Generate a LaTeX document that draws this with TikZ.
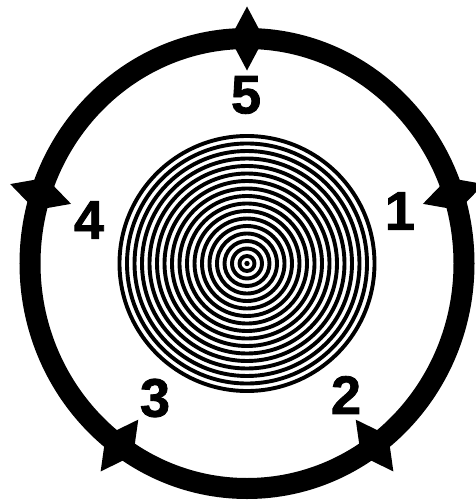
\documentclass[tikz,border=0pt]{standalone}
\usepackage{fontspec}
\setmainfont{Liberation Sans}
\newfontfamily\heavydigits[FakeBold=1.6]{Liberation Sans Bold}
\begin{document}
\begin{tikzpicture}[x=1pt,y=-1pt,
  num/.style={font=\heavydigits\fontsize{54}{54}\selectfont, inner sep=0pt, text=black},
  ringline/.style={line width=3.9pt, draw=black},
  band/.style={line width=21pt, draw=black}]
\useasboundingbox (0,0) rectangle (476,503);
\clip (0,0) rectangle (476,503);
\fill[white] (0,0) rectangle (476,503);
% concentric target
\fill[black] (247,263.5) circle [radius=2.7pt];
\foreach \k in {1,...,17} \draw[ringline] (247,263.5) circle [radius={7.5pt*\k}];
% outer band
\draw[band] (247,263.5) ellipse [x radius=217pt, y radius=225pt];
% arrowheads on the band
\foreach \t in {-90,-18,54,126,198}{
  \pgfmathsetmacro\cx{247+217*cos(\t)}
  \pgfmathsetmacro\cy{263.5+225*sin(\t)}
  \pgfmathsetmacro\c{cos(\t)}
  \pgfmathsetmacro\s{sin(\t)}
  \fill[black] ({\cx+32*\c},{\cy+32*\s}) -- ({\cx-17*\s},{\cy+17*\c}) -- ({\cx-32*\c},{\cy-32*\s}) -- ({\cx+17*\s},{\cy-17*\c}) -- cycle;
}
% numbers
\node[num] (n5) at (246,95) {5};
\node[num] (n1) at (400,211) {1};
\node[num] (n4) at (89,220) {4};
\node[num] (n3) at (155,398) {3};
\node[num] (n2) at (346,395) {2};
\end{tikzpicture}
\end{document}
